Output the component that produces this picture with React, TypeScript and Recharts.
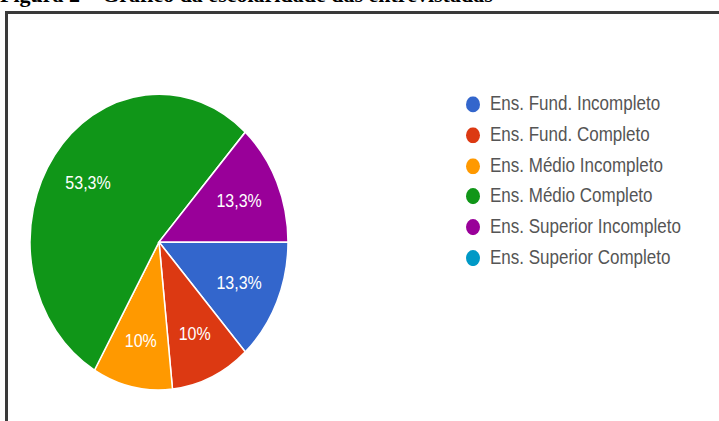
import React from "react"
import { PieChart, Pie, Cell, Legend } from "recharts"

const CATEGORIES = [
  "Ens. Fund. Incompleto",
  "Ens. Fund. Completo",
  "Ens. Médio Incompleto",
  "Ens. Médio Completo",
  "Ens. Superior Incompleto",
  "Ens. Superior Completo",
]
const COUNTS = [4, 3, 3, 16, 4, 0]
const COLORS = ["#3366cc", "#dc3912", "#ff9900", "#109618", "#990099", "#0099c6"]

const data = CATEGORIES.map((name, i) => ({ name, value: COUNTS[i] }))

// the picture is stretched a bit vertically
const SY = 1.147
const RADIAN = Math.PI / 180

function fmtPct(p: number) {
  return (p * 100).toFixed(1).replace(/\.0$/, "").replace(".", ",") + "%"
}

function renderLabel(props: any) {
  const { cx, cy, midAngle, outerRadius, percent } = props
  if (!percent) return null
  const r = outerRadius * 0.68
  const x = cx + r * Math.cos(-midAngle * RADIAN)
  const y = cy + r * Math.sin(-midAngle * RADIAN)
  return (
    <text
      x={x}
      y={y}
      fill="#ffffff"
      textAnchor="middle"
      dominantBaseline="central"
      fontFamily="Arial, 'Liberation Sans', sans-serif"
      fontSize={16}
    >
      {fmtPct(percent)}
    </text>
  )
}

function LegendList() {
  return (
    <div style={{ fontFamily: "Arial, 'Liberation Sans', sans-serif" }}>
      {CATEGORIES.map((name, i) => (
        <div
          key={name}
          style={{ height: 26.7, display: "flex", alignItems: "center" }}
        >
          <svg width={14} height={14} style={{ flex: "none" }}>
            <circle cx={7} cy={7} r={7} fill={COLORS[i]} />
          </svg>
          <span style={{ marginLeft: 10, fontSize: 17, color: "#555", whiteSpace: "nowrap" }}>
            {name}
          </span>
        </div>
      ))}
    </div>
  )
}

export default function App() {
  return (
    <div
      style={{
        position: "absolute",
        left: 0,
        top: 0,
        width: 719,
        height: 421,
        background: "#fff",
        overflow: "hidden",
      }}
    >
      <div
        style={{
          position: "absolute",
          left: 0,
          top: -16,
          fontFamily: "'Liberation Serif', 'Times New Roman', serif",
          fontWeight: "bold",
          fontSize: 22,
          lineHeight: "22px",
          whiteSpace: "nowrap",
          color: "#000",
        }}
      >
        Figura 2 – Gráfico da escolaridade das entrevistadas
      </div>
      <div
        style={{
          position: "absolute",
          left: 5,
          top: 11,
          width: 740,
          height: 440,
          borderLeft: "3px solid #3a3a3a",
          borderTop: "3px solid #3a3a3a",
        }}
      />
      <div
        style={{
          position: "absolute",
          left: 0,
          top: 0,
          transform: `scaleY(${SY})`,
          transformOrigin: "0 0",
        }}
      >
        <PieChart width={719} height={367} margin={{ top: 0, right: 0, bottom: 0, left: 0 }}>
          <Pie
            data={data}
            dataKey="value"
            nameKey="name"
            cx={159}
            cy={211}
            outerRadius={129}
            startAngle={0}
            endAngle={-360}
            stroke="#ffffff"
            strokeWidth={1.5}
            label={renderLabel}
            labelLine={false}
            isAnimationActive={false}
          >
            {data.map((d, i) => (
              <Cell key={d.name} fill={COLORS[i]} />
            ))}
          </Pie>
          <Legend
            content={() => <LegendList />}
            wrapperStyle={{ position: "absolute", left: 466, top: 78, width: 250 }}
          />
        </PieChart>
      </div>
    </div>
  )
}
